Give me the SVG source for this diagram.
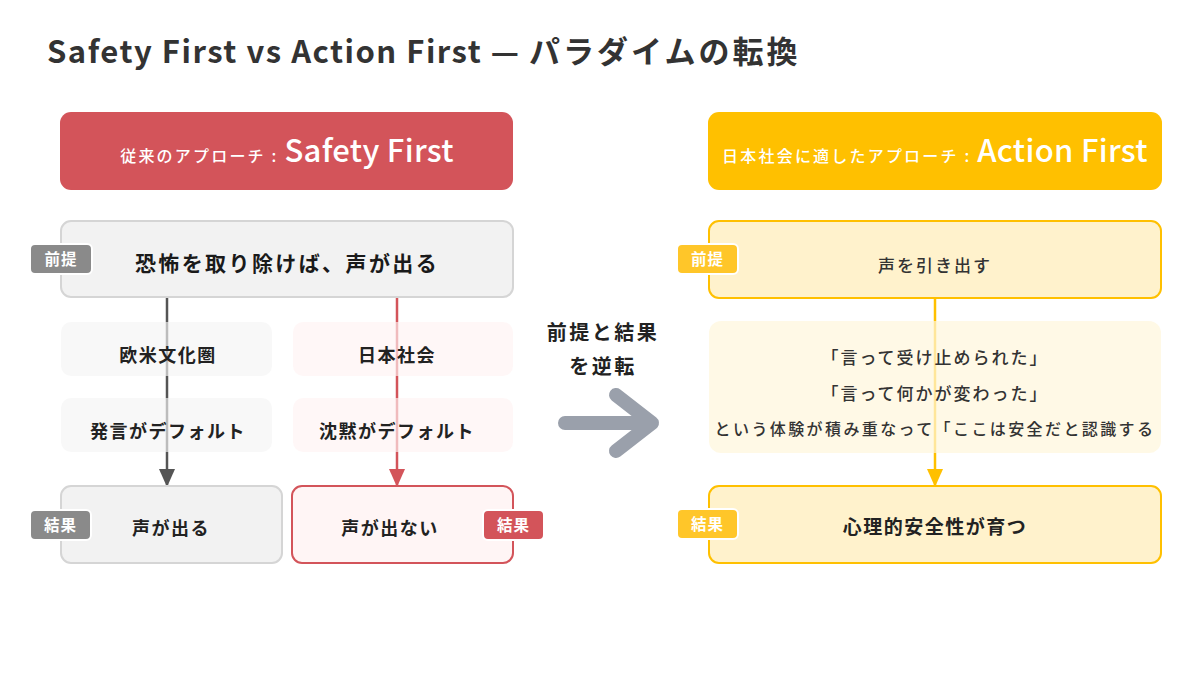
<svg xmlns="http://www.w3.org/2000/svg" width="1200" height="676" viewBox="0 0 1200 676">
<defs>
<style>
text{font-family:"Noto Sans CJK JP","Noto Sans",sans-serif;}
.title{font-size:31px;font-weight:700;fill:#333;letter-spacing:1.5px;}
.hdr{fill:#fff;font-weight:700;text-anchor:middle;}
.sm{font-size:16px;font-weight:500;letter-spacing:2.2px;}
.lg{font-size:31px;font-weight:500;letter-spacing:0.3px;}
.main{font-size:21px;font-weight:700;fill:#1a1a1a;text-anchor:middle;letter-spacing:2.4px;}
.mid{font-size:18px;font-weight:700;fill:#222;text-anchor:middle;letter-spacing:1.5px;}
.rt{font-size:17px;font-weight:500;fill:#333;text-anchor:middle;letter-spacing:2px;}
.bt{font-size:15.5px;font-weight:700;fill:#fff;text-anchor:middle;letter-spacing:1px;}
.gbox{fill:#f2f2f2;stroke:#d5d5d5;stroke-width:2;}
.gsoft{fill:#f5f5f5;fill-opacity:0.65;}
.psoft{fill:#fff3f3;fill-opacity:0.65;}
.ybox{fill:#fff2cc;stroke:#ffc000;stroke-width:2;}
.ysoft{fill:#fff6dc;fill-opacity:0.7;}
.gbadge{fill:#8a8a8a;stroke:#fff;stroke-width:2;}
.ybadge{fill:#ffc629;stroke:#fff;stroke-width:2;}
.rbadge{fill:#d3545a;stroke:#fff;stroke-width:2;}
.conn{fill:none;stroke-width:2.5;}
</style>
<marker id="ah-gray" viewBox="0 0 18 16" refX="17" refY="8" markerWidth="18" markerHeight="16" markerUnits="userSpaceOnUse" orient="auto"><path d="M0,0 L18,8 L0,16 z" fill="#555"/></marker>
<marker id="ah-red" viewBox="0 0 18 16" refX="17" refY="8" markerWidth="18" markerHeight="16" markerUnits="userSpaceOnUse" orient="auto"><path d="M0,0 L18,8 L0,16 z" fill="#d3545a"/></marker>
<marker id="ah-yellow" viewBox="0 0 18 16" refX="17" refY="8" markerWidth="18" markerHeight="16" markerUnits="userSpaceOnUse" orient="auto"><path d="M0,0 L18,8 L0,16 z" fill="#ffc000"/></marker>
</defs>
<rect width="1200" height="676" fill="#fff"/>

<g id="title"><text class="title" x="47" y="63">Safety First vs Action First — <tspan style="letter-spacing:3px">パラダイムの転換</tspan></text></g>

<g id="connectors">
<line class="conn" x1="167" y1="297" x2="167" y2="486" stroke="#555" marker-end="url(#ah-gray)"/>
<line class="conn" x1="397" y1="297" x2="397" y2="486" stroke="#d3545a" marker-end="url(#ah-red)"/>
<line class="conn" x1="935" y1="298" x2="935" y2="486" stroke="#ffc000" marker-end="url(#ah-yellow)"/>
</g>

<g id="left-header">
<rect x="60" y="112" width="453" height="78" rx="11" fill="#d3545a"/>
<text class="hdr" x="287" y="162"><tspan class="sm">従来のアプローチ : </tspan><tspan class="lg">Safety First</tspan></text>
</g>

<g id="left-premise">
<rect class="gbox" x="61" y="221" width="452" height="76" rx="10"/>
<text class="main" x="287" y="271">恐怖を取り除けば、声が出る</text>
<rect class="gbadge" x="30" y="244" width="62" height="30" rx="5"/>
<text class="bt" x="61" y="265">前提</text>
</g>

<g id="western">
<rect class="gsoft" x="61" y="322" width="211" height="54" rx="10"/>
<text class="mid" x="168" y="362">欧米文化圏</text>
</g>
<g id="speech-default">
<rect class="gsoft" x="61" y="398" width="211" height="54" rx="10"/>
<text class="mid" x="168" y="438">発言がデフォルト</text>
</g>
<g id="japan">
<rect class="psoft" x="293" y="322" width="220" height="54" rx="10"/>
<text class="mid" x="397" y="362">日本社会</text>
</g>
<g id="silence-default">
<rect class="psoft" x="293" y="398" width="220" height="54" rx="10"/>
<text class="mid" x="397" y="438">沈黙がデフォルト</text>
</g>

<g id="left-result-voice">
<rect class="gbox" x="61" y="486" width="221" height="77" rx="10"/>
<text class="mid" x="171" y="535">声が出る</text>
<rect class="gbadge" x="30" y="510" width="61" height="30" rx="5"/>
<text class="bt" x="60.5" y="531">結果</text>
</g>

<g id="left-result-silent">
<rect x="292" y="486" width="221" height="77" rx="10" fill="#fff5f5" stroke="#d3545a" stroke-width="2"/>
<text class="mid" x="390" y="535">声が出ない</text>
<rect class="rbadge" x="483" y="510" width="61" height="30" rx="5"/>
<text class="bt" x="513.5" y="531">結果</text>
</g>

<g id="reverse">
<text x="603" y="340" style="font-size:20px;font-weight:700;fill:#222;text-anchor:middle;letter-spacing:2.5px">前提と結果</text>
<text x="603" y="374" style="font-size:20px;font-weight:700;fill:#222;text-anchor:middle;letter-spacing:2.5px">を逆転</text>
<path d="M565,423 H651 M616,395 L652,423 L616,451" fill="none" stroke="#9aa0ab" stroke-width="14" stroke-linecap="round" stroke-linejoin="round"/>
</g>

<g id="right-header">
<rect x="708" y="112" width="454" height="78" rx="11" fill="#ffc000"/>
<text class="hdr" x="935" y="162"><tspan class="sm">日本社会に適したアプローチ : </tspan><tspan class="lg">Action First</tspan></text>
</g>

<g id="right-premise">
<rect class="ybox" x="709" y="221" width="452" height="77" rx="10"/>
<text class="rt" x="935" y="272">声を引き出す</text>
<rect class="ybadge" x="677" y="244" width="61" height="30" rx="5"/>
<text class="bt" x="707.5" y="265">前提</text>
</g>

<g id="experience">
<rect class="ysoft" x="709" y="321" width="452" height="132" rx="12"/>
<text class="rt" x="935" y="364">「言って受け止められた」</text>
<text class="rt" x="935" y="400">「言って何かが変わった」</text>
<text class="rt" x="935" y="435" style="font-size:16px;letter-spacing:2.4px">という体験が積み重なって「ここは安全だと認識する</text>
</g>

<g id="right-result">
<rect class="ybox" x="709" y="486" width="452" height="77" rx="10"/>
<text class="mid" x="935" y="534" style="font-size:19px">心理的安全性が育つ</text>
<rect class="ybadge" x="677" y="509" width="61" height="30" rx="5"/>
<text class="bt" x="707.5" y="530">結果</text>
</g>
</svg>
